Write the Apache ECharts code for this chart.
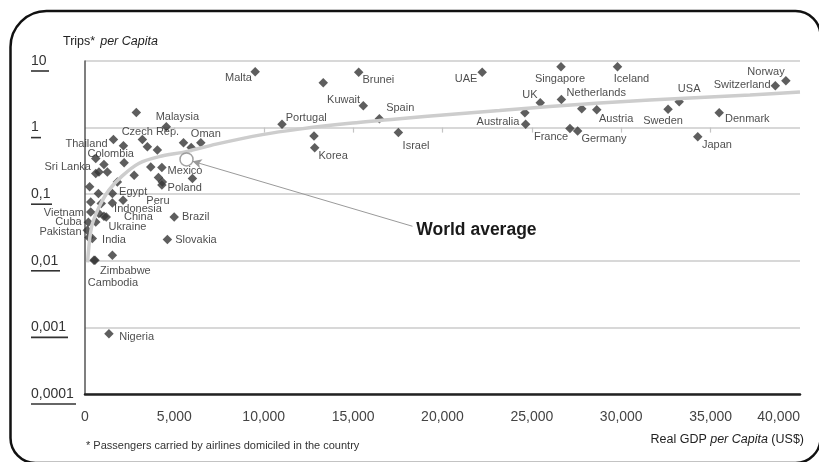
<!DOCTYPE html>
<html>
<head>
<meta charset="utf-8">
<script src="https://cdn.jsdelivr.net/npm/echarts@6/dist/echarts.min.js"></script>
<style>
  html, body { margin: 0; padding: 0; background: #fff; }
  #chart { width: 819px; height: 462px; }
</style>
</head>
<body>
<div id="chart"></div>
<script>
// Air trips per capita vs. real GDP per capita (log scale)
const countries = ['Malta', 'Brunei', 'Kuwait', 'Spain', 'Portugal', 'Korea', 'Israel', 'UAE',
  'Singapore', 'Iceland', 'UK', 'Netherlands', 'Australia', 'Austria', 'France', 'Germany',
  'Sweden', 'USA', 'Japan', 'Denmark', 'Switzerland', 'Norway', 'Malaysia', 'Czech Rep.',
  'Oman', 'Thailand', 'Colombia', 'Sri Lanka', 'Mexico', 'Poland', 'Egypt', 'Peru',
  'Indonesia', 'China', 'Ukraine', 'Vietnam', 'Cuba', 'Pakistan', 'India', 'Brazil',
  'Slovakia', 'Zimbabwe', 'Cambodia', 'Nigeria'];
const gdpPerCapita = [9520, 15310, 15570, 16470, 11020, 12850, 17530, 22220,
  26630, 29790, 25470, 26650, 24650, 28630, 27130, 27560,
  32620, 33240, 34280, 35480, 38620, 39210, 4550, 3210,
  6480, 1590, 600, 600, 4300, 4300, 1530, 2130,
  1530, 1190, 600, 320, 190, 130, 410, 4990,
  4610, 1530, 500, 1340];
const tripsPerCapita = [6.9, 6.76, 2.13, 1.36, 1.12, 0.497, 0.847, 6.76,
  8.2, 8.2, 2.36, 2.65, 1.12, 1.85, 0.973, 0.886,
  1.88, 2.44, 0.728, 1.67, 4.25, 5.06, 1.03, 0.665,
  0.591, 0.665, 0.344, 0.205, 0.252, 0.137, 0.1025, 0.0813,
  0.074, 0.0456, 0.0383, 0.0542, 0.0379, 0.0288, 0.0216, 0.0456,
  0.0208, 0.0121, 0.0102, 0.0008];

// countries shown without a name
const otherGdp = [2870, 13330, 12810, 24610, 27790, 2150, 3490, 4050, 5510, 5940,
  1060, 2190, 780, 1250, 2750, 3680, 4110, 4330, 6010, 1810,
  260, 750, 320, 780, 220, 560, 910, 1060];
const otherTrips = [1.69, 4.72, 0.745, 1.67, 1.92, 0.532, 0.514, 0.459, 0.591, 0.504,
  0.28, 0.296, 0.216, 0.216, 0.193, 0.257, 0.178, 0.153, 0.172, 0.153,
  0.129, 0.1025, 0.0766, 0.0513, 0.0223, 0.0102, 0.0724, 0.0467];

// fitted trend curve
const trendGdp = [140, 200, 280, 420, 780, 1340, 2070, 3030, 4150, 5660, 7340, 9920,
  11990, 14960, 17590, 20390, 23190, 25990, 28790, 31600, 34400, 37200, 40000];
const trendTrips = [0.0095, 0.0144, 0.0233, 0.0366, 0.0638, 0.115, 0.187, 0.292, 0.366, 0.436, 0.565, 0.785,
  0.949, 1.17, 1.36, 1.57, 1.80, 2.07, 2.34, 2.59, 2.83, 3.08, 3.42];

const worldAverage = [5680, 0.333];
const worldAverageLabel = 'World average';
const worldAverageLabelAt = [18320, 0.033];
const worldAverageArrowTip = [6020, 0.312];

const xTickValues = [5000, 10000, 15000, 20000, 25000, 30000, 35000];
const yTickLabels = ['0,0001', '0,001', '0,01', '0,1', '1', '10'];

// label placement per country: [position, dx, dy]
const labelPlacement = {
  'Malta': ['left', 3.5, 6], 'Brunei': ['right', -3, 8], 'Kuwait': ['left', 3.5, -6],
  'Spain': ['right', 0, -11], 'Portugal': ['right', -3, -6], 'Korea': ['right', -3, 8],
  'Israel': ['right', -2.5, 14], 'UAE': ['left', 2, 7], 'Singapore': ['bottom', -1, 0],
  'Iceland': ['bottom', 14, 0], 'UK': ['left', 4, -8], 'Netherlands': ['right', -1.5, -6],
  'Australia': ['left', 0.5, -2], 'Austria': ['right', -4.5, 9], 'France': ['left', 5, 9],
  'Germany': ['right', -3, 7.5], 'Sweden': ['bottom', -5, -1], 'USA': ['top', 10, -1],
  'Japan': ['right', -2.5, 8], 'Denmark': ['right', -1, 6], 'Switzerland': ['left', 2, -1],
  'Norway': ['left', 5.5, -9], 'Malaysia': ['top', 11, 2], 'Czech Rep.': ['top', 8, 5],
  'Oman': ['top', 5, 3], 'Thailand': ['left', 1, 5], 'Colombia': ['right', -15, -4],
  'Sri Lanka': ['left', 2, -6], 'Mexico': ['right', -1, 4], 'Poland': ['right', -1, 2.5],
  'Egypt': ['right', 0, -2], 'Peru': ['right', 16.5, 0.5], 'Indonesia': ['right', -5, 6],
  'China': ['right', 11, 0], 'Ukraine': ['right', 6, 5], 'Vietnam': ['left', 0, 1],
  'Cuba': ['left', 0, 0], 'Pakistan': ['left', 1, 2], 'India': ['right', 3, 1],
  'Brazil': ['right', 1, 0], 'Slovakia': ['right', 1, 0], 'Zimbabwe': ['bottom', 13, 3.5],
  'Cambodia': ['bottom', 19, 10.5], 'Nigeria': ['right', 3.5, 3]
};

const sansFont = '"Liberation Sans", Arial, Helvetica, sans-serif';
const markColor = '#363636';

// underlined y-axis labels: measure each label to size its rule
const measureCtx = document.createElement('canvas').getContext('2d');
measureCtx.font = '14px ' + sansFont;
const yRich = { t: { fontSize: 14, lineHeight: 16, color: '#333', fontFamily: sansFont } };
yTickLabels.forEach((s, i) => {
  yRich['u' + i] = {
    width: Math.round(measureCtx.measureText(s).width) + 2,
    height: 1.6, lineHeight: 4, backgroundColor: '#333'
  };
});

const placementOf = name => labelPlacement[name] || ['right', 0, 0];
const countryData = countries.map((name, i) => ({
  name: name,
  value: [gdpPerCapita[i], tripsPerCapita[i]],
  label: { position: placementOf(name)[0] }
}));
const otherData = otherGdp.map((g, i) => [g, otherTrips[i]]);
const trendData = trendGdp.map((g, i) => [g, trendTrips[i]]);
const tickDrop = Math.pow(10, -5 / 66.5);
const tickSegments = xTickValues.map(t => [{ coord: [t, 1] }, { coord: [t, tickDrop] }]);

const plainRich = {
  a: { fontSize: 12.5, color: '#222', fontWeight: 'normal', fontFamily: sansFont },
  b: { fontSize: 12.5, color: '#222', fontWeight: 'normal', fontStyle: 'italic', fontFamily: sansFont }
};

const chart = echarts.init(document.getElementById('chart'), null, { renderer: 'canvas' });

chart.setOption({
  animation: false,
  backgroundColor: '#fff',
  textStyle: { fontFamily: sansFont },
  title: [
    {
      text: '{a|Trips*} {b|per Capita}',
      left: 63, top: 33, padding: 0,
      textStyle: { fontWeight: 'normal', rich: plainRich }
    },
    {
      text: '* Passengers carried by airlines domiciled in the country',
      left: 86, top: 440, padding: 0,
      textStyle: { fontSize: 11, fontWeight: 'normal', color: '#333', fontFamily: sansFont }
    },
    {
      text: '{a|Real GDP }{b|per Capita}{a| (US$)}',
      right: 15, top: 433, padding: 0,
      textStyle: { fontWeight: 'normal', rich: plainRich }
    }
  ],
  grid: { left: 85, right: 19, top: 61, bottom: 68, containLabel: false },
  xAxis: {
    type: 'value', min: 0, max: 40000, interval: 5000,
    axisLine: { show: true, lineStyle: { color: '#222', width: 2.5 } },
    axisTick: { show: false },
    splitLine: { show: false },
    axisLabel: {
      fontSize: 14, color: '#444', margin: 16, fontFamily: sansFont,
      alignMaxLabel: 'right',
      formatter: v => v.toLocaleString('en-US')
    }
  },
  yAxis: {
    type: 'log', logBase: 10, min: 0.0001, max: 10,
    axisLine: { show: true, lineStyle: { color: '#555', width: 1.5 } },
    axisTick: { show: false },
    splitLine: { show: true, lineStyle: { color: '#cbcbcb', width: 1.5 } },
    axisLabel: {
      align: 'left', margin: 54, padding: [4, 0, 0, 0],
      formatter: v => {
        const i = Math.round(Math.log10(v)) + 4;
        return '{t|' + yTickLabels[i] + '}\n{u' + i + '| }';
      },
      rich: yRich
    }
  },
  series: [
    {
      // small ticks hanging under the 1-trip gridline
      type: 'scatter', data: [], silent: true,
      markLine: {
        silent: true, symbol: 'none', animation: false,
        lineStyle: { color: '#c4c4c4', width: 1.2, type: 'solid' },
        label: { show: false },
        data: tickSegments
      }
    },
    {
      name: 'others', type: 'scatter', symbol: 'diamond', symbolSize: 9.5,
      itemStyle: { color: markColor }, silent: true,
      data: otherData
    },
    {
      name: 'countries', type: 'scatter', symbol: 'diamond', symbolSize: 9.5,
      itemStyle: { color: markColor }, silent: true,
      label: {
        show: true, distance: 2, formatter: '{b}',
        fontSize: 11, color: '#222', fontFamily: sansFont
      },
      labelLayout: params => {
        const p = placementOf(countries[params.dataIndex]);
        return { dx: p[1], dy: p[2], hideOverlap: false };
      },
      data: countryData
    },
    {
      name: 'trend', type: 'line', smooth: 0.3, showSymbol: false, silent: true,
      lineStyle: { color: '#cdcdcd', width: 3.5 },
      data: trendData, z: 3
    },
    {
      name: 'world average', type: 'scatter', symbol: 'circle', symbolSize: 13,
      itemStyle: { color: '#fff', borderColor: '#8a8a8a', borderWidth: 1.5 },
      silent: true, z: 5,
      data: [worldAverage],
      markLine: {
        silent: true, animation: false,
        symbol: ['none', 'arrow'], symbolSize: [7, 9],
        lineStyle: { color: '#9a9a9a', width: 1, type: 'solid' },
        label: {
          show: true, position: 'start', distance: [4, 15],
          formatter: worldAverageLabel,
          fontSize: 17.5, fontWeight: 'bold', color: '#1a1a1a', fontFamily: sansFont
        },
        data: [[{ coord: worldAverageLabelAt }, { coord: worldAverageArrowTip }]]
      }
    }
  ],
  graphic: [
    {
      type: 'rect', silent: true, z: 100,
      shape: { x: 10.5, y: 11, width: 810, height: 452, r: [36, 25, 25, 25] },
      style: { fill: 'none', stroke: '#111', lineWidth: 2.5 }
    }
  ]
});
</script>
</body>
</html>
